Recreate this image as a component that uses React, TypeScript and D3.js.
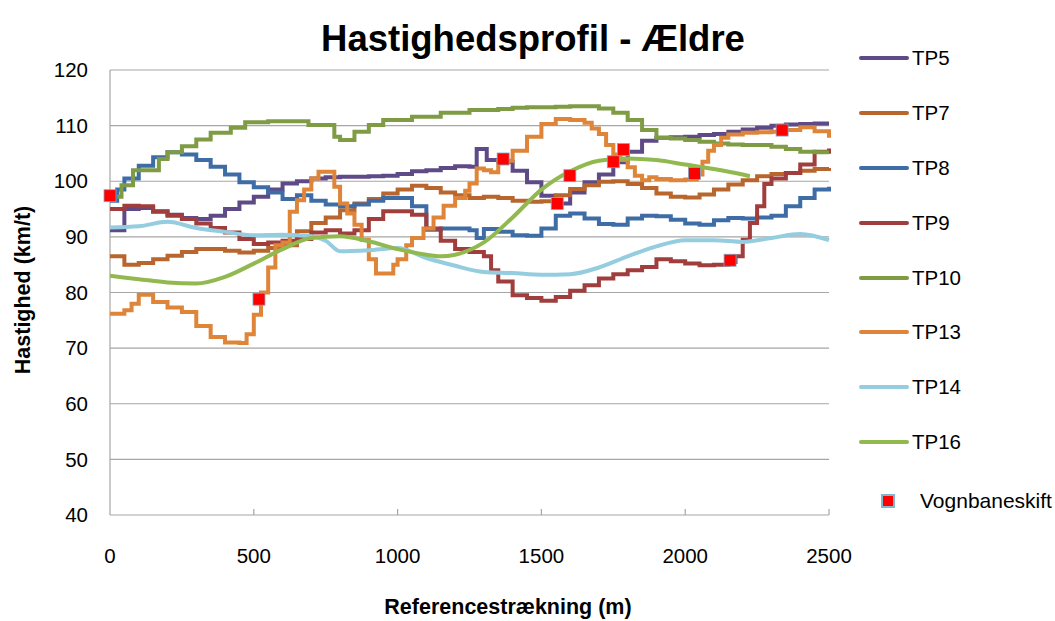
import React from "react";
import * as d3 from "d3";

type P = [number, number];

const seriesNames = ["TP5", "TP7", "TP8", "TP9", "TP10", "TP13", "TP14", "TP16"];
const seriesColors = ["#5E4A86", "#B8662D", "#3E6CA6", "#A03E3D", "#7F9C45", "#DE8539", "#93CDDF", "#92B850"];

const tp5: P[] = [[0,91.2],[40,91.2],[50,95.0],[100,95.2],[150,94.6],[200,94.0],[250,93.4],[300,93.2],[350,93.8],[400,95.0],[450,96.2],[500,97.2],[550,98.5],[600,99.6],[650,100.0],[700,100.5],[750,100.7],[800,100.8],[850,100.8],[900,100.9],[950,101.0],[1000,101.3],[1050,101.8],[1100,102.0],[1150,102.4],[1200,102.7],[1250,102.6],[1275,105.8],[1310,103.8],[1350,103.5],[1400,101.9],[1450,99.8],[1500,97.4],[1550,96.0],[1600,98.0],[1650,99.8],[1700,101.2],[1750,103.4],[1800,105.3],[1850,107.3],[1900,107.8],[1950,107.9],[2000,108.0],[2050,108.3],[2100,108.5],[2150,108.9],[2200,109.3],[2250,109.6],[2300,110.0],[2350,110.2],[2400,110.3],[2450,110.4],[2500,110.4]];

const tp7: P[] = [[0,86.5],[50,85.0],[100,85.3],[150,86.0],[200,86.6],[250,87.3],[300,87.8],[350,87.8],[400,87.5],[450,87.2],[500,87.5],[550,88.0],[600,88.5],[650,91.0],[700,92.5],[750,93.5],[800,94.8],[850,96.0],[900,96.8],[950,97.8],[1000,98.5],[1050,99.2],[1100,98.8],[1150,98.0],[1200,97.5],[1250,97.0],[1300,97.2],[1350,97.0],[1400,96.5],[1450,96.3],[1500,96.4],[1550,97.5],[1600,98.6],[1650,99.3],[1700,99.9],[1750,100.0],[1800,99.5],[1850,98.8],[1900,97.8],[1950,97.2],[2000,97.1],[2050,97.6],[2100,98.5],[2150,99.4],[2200,100.2],[2250,100.9],[2300,101.3],[2350,101.5],[2400,101.9],[2450,102.2],[2500,102.4]];

const tp8: P[] = [[0,96.5],[25,98.5],[50,100.5],[100,102.8],[150,104.3],[200,105.2],[250,104.8],[300,103.8],[350,102.6],[400,101.2],[450,99.8],[500,98.9],[550,98.0],[600,96.8],[650,97.5],[700,96.5],[750,95.8],[800,95.5],[850,95.8],[900,96.5],[950,97.0],[1000,97.0],[1050,95.5],[1100,91.3],[1150,91.5],[1200,91.5],[1250,91.2],[1275,89.8],[1300,91.4],[1350,90.9],[1400,90.3],[1450,90.2],[1500,91.5],[1550,93.8],[1600,94.2],[1650,93.3],[1700,92.3],[1750,92.2],[1800,93.3],[1850,93.8],[1900,93.7],[1950,93.1],[2000,92.4],[2050,92.2],[2100,93.0],[2150,93.4],[2200,93.3],[2250,93.5],[2300,93.8],[2350,95.5],[2400,97.0],[2450,98.5],[2500,99.0]];

const tp9: P[] = [[0,95.0],[50,95.6],[100,95.5],[150,94.5],[200,93.8],[250,93.2],[300,92.4],[350,91.6],[400,90.8],[450,89.6],[500,88.7],[550,89.0],[600,89.3],[650,89.6],[700,90.8],[750,91.2],[800,90.6],[850,91.2],[900,93.2],[950,94.6],[1000,94.6],[1050,94.0],[1100,91.5],[1150,89.3],[1200,87.8],[1250,87.3],[1300,86.5],[1325,84.0],[1350,82.0],[1400,79.5],[1450,79.0],[1500,78.5],[1550,79.2],[1600,80.3],[1650,81.3],[1700,82.5],[1750,83.3],[1800,84.0],[1850,84.6],[1900,86.0],[1950,85.6],[2000,85.2],[2050,84.9],[2100,85.0],[2150,85.5],[2175,86.5],[2200,89.5],[2225,92.5],[2250,95.5],[2275,99.5],[2300,100.5],[2350,101.5],[2400,103.0],[2450,105.3],[2500,105.9]];

const tp10: P[] = [[25,97.2],[40,99.3],[80,102.0],[170,104.0],[200,105.2],[250,106.3],[300,107.5],[350,108.7],[420,109.6],[470,110.6],[550,110.8],[690,110.1],[780,108.0],[800,107.4],[840,107.4],[850,108.9],[900,110.1],[950,111.0],[1050,111.6],[1150,112.3],[1250,112.8],[1350,113.0],[1400,113.2],[1450,113.3],[1550,113.4],[1600,113.5],[1650,113.5],[1700,113.1],[1750,112.3],[1800,111.0],[1850,109.2],[1900,107.8],[1950,107.7],[2000,107.4],[2050,107.1],[2100,106.8],[2150,106.6],[2200,106.5],[2250,106.5],[2300,106.2],[2350,105.8],[2400,105.3],[2450,105.2],[2500,105.2]];

const tp13: P[] = [[0,76.2],[50,76.8],[75,78.0],[100,79.6],[150,78.3],[200,77.3],[250,76.5],[300,74.0],[350,72.0],[400,71.0],[450,70.9],[475,72.5],[500,76.0],[525,80.0],[550,84.5],[575,88.5],[600,89.0],[625,94.5],[650,96.6],[675,98.5],[700,100.5],[725,101.7],[760,101.7],[780,99.0],[800,96.0],[825,94.2],[850,92.2],[875,89.5],[900,86.0],[925,83.4],[960,83.4],[985,85.0],[1000,86.0],[1030,88.5],[1050,89.8],[1090,91.5],[1125,93.5],[1160,95.6],[1200,97.0],[1235,98.3],[1250,99.6],[1275,102.3],[1300,102.0],[1325,101.6],[1350,103.7],[1400,105.5],[1450,108.0],[1500,110.3],[1550,111.2],[1600,111.0],[1650,110.5],[1675,109.5],[1700,108.5],[1725,106.5],[1750,104.8],[1775,103.8],[1800,102.5],[1825,101.0],[1850,100.2],[1875,100.7],[1900,100.4],[1950,100.2],[2000,100.3],[2040,101.2],[2060,103.5],[2080,105.5],[2100,106.5],[2125,107.8],[2150,108.4],[2200,108.7],[2250,108.8],[2300,108.9],[2350,109.2],[2400,109.7],[2450,109.0],[2500,107.8]];

const tp14: P[] = [[0,91.7],[100,91.9],[200,92.7],[300,91.6],[400,90.9],[500,90.3],[600,90.4],[700,90.1],[750,89.3],[800,87.4],[900,87.6],[1000,88.0],[1100,86.2],[1200,84.8],[1300,83.7],[1400,83.5],[1500,83.2],[1600,83.3],[1700,84.5],[1800,86.5],[1900,88.3],[2000,89.4],[2100,89.4],[2200,89.1],[2300,89.8],[2400,90.5],[2500,89.4]];

const tp16: P[] = [[0,83.0],[100,82.4],[200,81.8],[300,81.6],[400,82.8],[500,85.2],[600,87.8],[700,89.8],[800,90.1],[900,89.2],[1000,87.8],[1100,86.8],[1150,86.5],[1200,86.8],[1300,89.0],[1400,93.5],[1500,98.5],[1600,101.8],[1700,103.7],[1800,104.1],[1900,103.8],[2000,103.0],[2100,102.2],[2200,101.2],[2225,100.9]];

const markerDist = [0, 518, 1367, 1555, 1599, 1750, 1785, 2032, 2156, 2337];
const markerSpeed = [97.4, 78.8, 104.0, 96.0, 101.0, 103.5, 105.7, 101.4, 85.8, 109.2];

const yTicks = [40, 50, 60, 70, 80, 90, 100, 110, 120];
const xTicks = [0, 500, 1000, 1500, 2000, 2500];

const allSeries = [tp5, tp7, tp8, tp9, tp10, tp13, tp14, tp16];
const smooth = [false, false, false, false, false, false, true, true];

const FONT = "Liberation Sans, Arial, sans-serif";

export default function App() {
  const x = d3.scaleLinear().domain([0, 2500]).range([110, 829]);
  const y = d3.scaleLinear().domain([40, 120]).range([515, 70]);

  const stepLine = d3.line<P>().x(d => x(d[0])).y(d => y(d[1])).curve(d3.curveStepAfter);
  const smoothLine = d3.line<P>().x(d => x(d[0])).y(d => y(d[1])).curve(d3.curveMonotoneX);

  const legendY = [58, 113, 168, 223, 278, 332, 387, 442];

  return (
    <svg width={1055} height={621} style={{ position: "absolute", left: 0, top: 0, background: "#fff" }} fontFamily={FONT}>
      <rect x={0} y={0} width={1055} height={621} fill="#fff" />
      <text x={533} y={51} textAnchor="middle" fontSize={36.5} fontWeight="bold" fill="#000">Hastighedsprofil - Ældre</text>

      {yTicks.map(t => (
        <line key={"g" + t} x1={110} x2={829} y1={y(t)} y2={y(t)} stroke="#A6A6A6" strokeWidth={1.2} />
      ))}
      <line x1={110} x2={110} y1={70} y2={515} stroke="#A6A6A6" strokeWidth={1.2} />
      {xTicks.slice(1).map(t => (
        <line key={"xt" + t} x1={x(t)} x2={x(t)} y1={515} y2={509} stroke="#A6A6A6" strokeWidth={1.2} />
      ))}

      {yTicks.map(t => (
        <text key={"yl" + t} x={88} y={y(t)} dy="0.35em" textAnchor="end" fontSize={20.5} fill="#000">{t}</text>
      ))}
      {xTicks.map(t => (
        <text key={"xl" + t} x={x(t)} y={563} textAnchor="middle" fontSize={20.5} fill="#000">{t}</text>
      ))}

      <text x={508} y={614} textAnchor="middle" fontSize={21.5} fontWeight="bold" fill="#000">Referencestrækning (m)</text>
      <text transform="translate(30,290) rotate(-90)" textAnchor="middle" fontSize={21.5} fontWeight="bold" fill="#000">Hastighed (km/t)</text>

      <g fill="none" strokeWidth={4} strokeLinejoin="miter" strokeLinecap="butt">
        {allSeries.map((s, i) => (
          <path key={seriesNames[i]} d={(smooth[i] ? smoothLine : stepLine)(s) || ""} stroke={seriesColors[i]} />
        ))}
      </g>

      {markerDist.map((m, i) => (
        <rect key={"m" + i} x={x(m) - 6} y={y(markerSpeed[i]) - 6} width={12} height={12} fill="#FF0000" stroke="#7FA8C8" strokeWidth={0.8} />
      ))}

      {seriesNames.map((n, i) => (
        <g key={"lg" + n}>
          <line x1={861} x2={907} y1={legendY[i]} y2={legendY[i]} stroke={seriesColors[i]} strokeWidth={4} strokeLinecap="round" />
          <text x={912} y={legendY[i]} dy="0.35em" fontSize={20.5} fill="#000">{n}</text>
        </g>
      ))}
      <rect x={882} y={495} width={12} height={12} fill="#FF0000" stroke="#7FB8D0" strokeWidth={2} />
      <text x={920} y={501} dy="0.35em" fontSize={21} fill="#000">Vognbaneskift</text>
    </svg>
  );
}
